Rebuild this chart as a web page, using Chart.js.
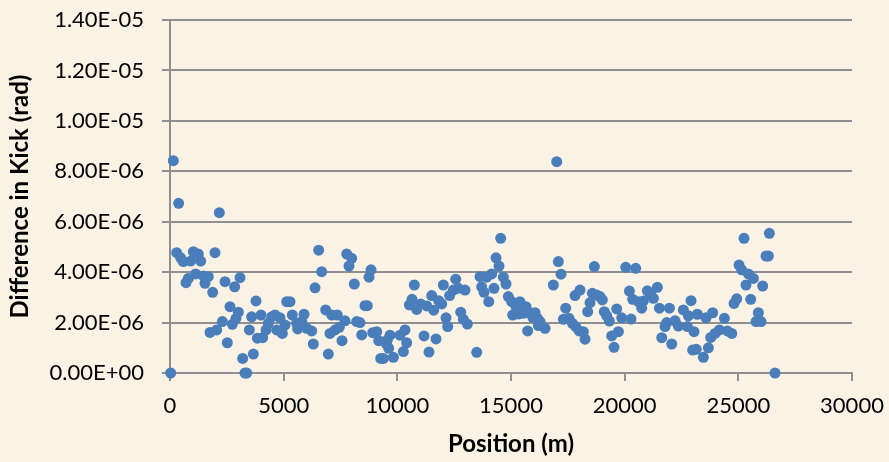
<!DOCTYPE html>
<html>
<head>
<meta charset="utf-8">
<script src="https://cdn.jsdelivr.net/npm/chart.js@4"></script>
<style>
  html, body { margin: 0; padding: 0; background: #faf3e5; }
  #wrap { width: 889px; height: 462px; position: relative; }
</style>
</head>
<body>
<div id="wrap"><canvas id="chart"></canvas></div>
<script>
// position along the line (m)
const positions = [
  30, 147, 293, 380, 470, 587, 704, 806, 909, 1026, 1129, 1246, 1349, 1466, 1540, 1686,
  1760, 1877, 1980, 2053, 2170, 2302, 2420, 2522, 2640, 2742, 2844, 2904, 3006, 3080,
  3196, 3300, 3373, 3490, 3593, 3666, 3783, 3842, 4003, 4078, 4223, 4325, 4472, 4619,
  4692, 4839, 4941, 5059, 5133, 5279, 5381, 5572, 5616, 5792, 5895, 6012, 6232, 6305,
  6379, 6540, 6672, 6848, 6965, 7038, 7113, 7258, 7360, 7447, 7566, 7698, 7772, 7874,
  7993, 8107, 8212, 8358, 8432, 8578, 8680, 8754, 8842, 8916, 9093, 9181, 9269, 9386,
  9503, 9562, 9620, 9679, 9826, 10118, 10265, 10338, 10412, 10529, 10646, 10747, 10852,
  11029, 11174, 11293, 11394, 11512, 11600, 11702, 11820, 11952, 12025, 12142, 12215,
  12300, 12465, 12568, 12685, 12788, 12905, 12978, 13080, 13493, 13637, 13710, 13813,
  13931, 14020, 14152, 14253, 14341, 14473, 14547, 14663, 14781, 14883, 15031, 15075,
  15221, 15323, 15397, 15543, 15661, 15733, 15837, 15955, 16057, 16160, 16203, 16277,
  16497, 16863, 17011, 17083, 17200, 17303, 17407, 17552, 17699, 17816, 17846, 18036,
  18000, 18182, 18256, 18373, 18476, 18578, 18666, 18769, 18916, 19018, 19106, 19209,
  19326, 19430, 19532, 19650, 19723, 19870, 20046, 20208, 20279, 20354, 20486, 20603,
  20750, 20823, 20999, 21146, 21264, 21439, 21528, 21631, 21777, 21850, 21968, 22070,
  22216, 22362, 22582, 22758, 22802, 22919, 23051, 22990, 23198, 23150, 23462, 23579,
  23681, 23785, 23873, 23975, 24166, 24386, 24518, 24710, 24811, 24930, 25031, 25148,
  25250, 25338, 25441, 25544, 25661, 25778, 25881, 25998, 26071, 26218, 26321, 26364,
  26614
]

// kick difference, in units of 1e-6 rad
const kicks = [
  0, 8.42, 4.77, 6.73, 4.57, 4.42, 3.58, 3.75, 4.44, 4.81, 3.93, 4.72, 4.44, 3.85, 3.56, 3.82,
  1.61, 3.20, 4.77, 1.71, 6.36, 2.04, 3.62, 1.20, 2.63, 1.93, 3.42, 2.17, 2.41, 3.78,
  0.58, 0, 0, 1.71, 2.23, 0.75, 2.86, 1.38, 2.30, 1.40, 1.71, 1.97, 2.23, 2.30,
  1.71, 2.19, 1.57, 1.90, 2.83, 2.83, 2.30, 1.97, 1.75, 2.04, 2.33, 1.77, 1.67, 1.15,
  3.38, 4.87, 4.02, 2.50, 0.75, 1.57, 2.30, 1.71, 2.30, 1.81, 1.28, 2.07, 4.72, 4.24,
  4.55, 3.53, 2.04, 2.00, 1.51, 2.67, 2.67, 3.80, 4.09, 1.60, 1.64, 1.28, 0.58, 0.58,
  1.18, 1.31, 0.98, 1.50, 0.62, 1.50, 0.85, 1.71, 1.20, 2.70, 2.92, 3.49, 2.52,
  2.74, 1.47, 2.66, 0.83, 3.07, 2.49, 1.35, 2.87, 2.74, 3.49, 2.19, 1.84,
  3.07, 3.29, 3.72, 3.36, 2.41, 2.13, 3.29, 1.94, 0.82, 3.82, 3.42, 3.20,
  3.80, 2.83, 3.93, 3.36, 4.57, 4.24, 5.34, 3.80, 3.53, 3.03, 2.83, 2.30,
  2.63, 2.34, 2.83, 2.37, 2.63, 1.67, 2.39, 2.21, 2.39, 2.17, 1.88, 2.04,
  1.77, 3.49, 8.38, 4.42, 3.92, 2.13, 2.57, 2.17, 1.97, 3.07, 1.84, 3.29,
  1.67, 1.64, 1.34, 2.43, 2.79, 3.16, 4.22, 3.09, 3.03, 2.90, 2.43, 2.27,
  2.06, 1.47, 1.02, 2.54, 1.64, 2.19, 4.19, 3.25, 2.14, 2.92, 4.15, 2.83,
  2.57, 2.86, 3.26, 3.13, 2.96, 3.40, 2.57, 1.40, 1.84, 2.00, 2.57, 1.15,
  2.07, 1.86, 2.50, 1.84, 2.27, 2.87, 1.64, 0.91, 2.33, 0.94, 0.62, 2.19,
  1.00, 1.41, 2.39, 1.57, 1.71, 2.17, 1.67, 1.57, 2.76, 2.94, 4.28, 4.09,
  5.34, 3.49, 3.93, 2.92, 3.75, 2.04, 2.39, 2.04, 3.45, 4.64, 4.64, 5.54,
  0
]

const yTicks = [0, 2, 4, 6, 8, 10, 12, 14]

// Excel style 0.00E+00
function sci(v) {
  if (v === 0) return '0.00E+00'
  const [m, e] = (v * 1e-6).toExponential(2).split('e')
  const n = parseInt(e, 10)
  return m + 'E' + (n < 0 ? '-' : '+') + String(Math.abs(n)).padStart(2, '0')
}

const pts = positions.map((x, i) => ({ x, y: kicks[i] }))

const tickFont = { family: 'Lato', size: 22 }
const titleFont = { family: 'Lato', size: 24, weight: 'bold' }
const gridColor = '#8f8f8f'

new Chart(document.getElementById('chart'), {
  type: 'scatter',
  data: {
    datasets: [{
      data: pts,
      backgroundColor: '#4a7ebb',
      borderColor: '#4a7ebb',
      borderWidth: 0,
      pointRadius: 5.5,
      pointHoverRadius: 5.5,
      clip: false
    }]
  },
  options: {
    responsive: true,
    maintainAspectRatio: false,
    animation: false,
    layout: { padding: { top: 20, right: 37, bottom: 0, left: 0 } },
    plugins: { legend: { display: false }, tooltip: { enabled: false } },
    scales: {
      x: {
        type: 'linear',
        min: 0,
        max: 30000,
        ticks: { stepSize: 5000, callback: v => String(v), color: '#000', font: tickFont, padding: 12, maxRotation: 0 },
        grid: { drawOnChartArea: false, drawTicks: true, tickLength: 8, color: gridColor, lineWidth: 2 },
        border: { color: gridColor, width: 2 },
        title: { display: true, text: 'Position (m)', color: '#000', font: titleFont, padding: { top: 0, bottom: 3 } },
        afterFit: s => { s.height = 89; s.paddingLeft = 0; s.paddingRight = 0 }
      },
      y: {
        min: 0,
        max: 14,
        afterBuildTicks: s => { s.ticks = yTicks.map(value => ({ value })) },
        ticks: { callback: v => sci(v), color: '#000', font: tickFont, padding: 18 },
        grid: { color: gridColor, lineWidth: 2, tickLength: 8 },
        border: { color: gridColor, width: 2 },
        title: { display: true, text: 'Difference in Kick (rad)', color: '#000', font: titleFont, padding: { top: 6, bottom: 0 } },
        afterFit: s => { s.width = 170; s.paddingTop = 0; s.paddingBottom = 0 }
      }
    }
  }
})
</script>
</body>
</html>
